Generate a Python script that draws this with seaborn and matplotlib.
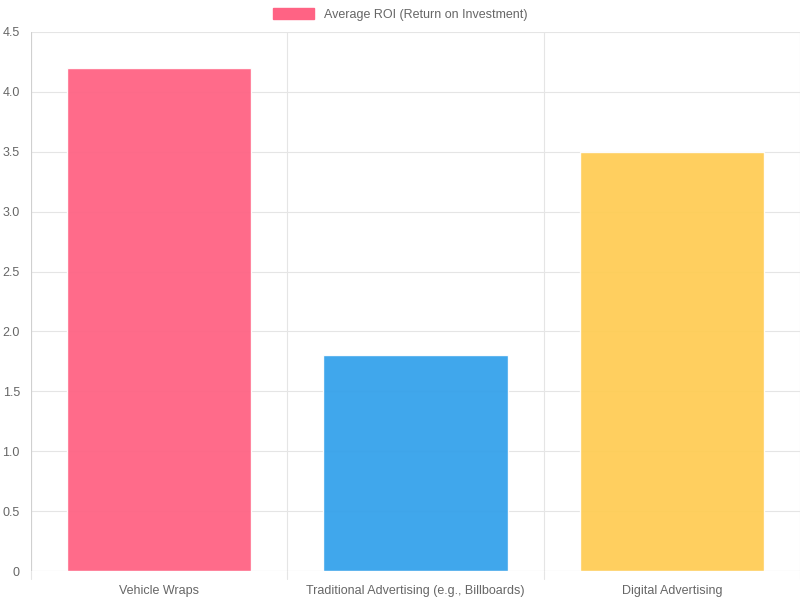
import matplotlib
matplotlib.use("Agg")
import matplotlib.pyplot as plt
import seaborn as sns
import pandas as pd
from matplotlib.patches import Patch

categories = ["Vehicle Wraps", "Traditional Advertising (e.g., Billboards)", "Digital Advertising"]
roi = [4.2, 1.8, 3.5]
colors = ["#FF6384", "#36A2EB", "#FFCD56"]
series_label = "Average ROI (Return on Investment)"

sns.set_theme(style="white")
plt.rcParams['font.family'] = ['Liberation Sans', 'DejaVu Sans']

df = pd.DataFrame({"cat": categories, "roi": roi})
fig = plt.figure(figsize=(8, 6), dpi=100)
ax = fig.add_axes([31/800, 29/600, 769/800, 539/600])
sns.barplot(data=df, x="cat", y="roi", hue="cat", palette=colors, width=0.72,
            ax=ax, legend=False, saturation=1, alpha=0.95)
ax.set_xlim(-0.5, 2.5)
ax.set_ylim(0, 4.5)
ax.set_yticks([0, 0.5, 1.0, 1.5, 2.0, 2.5, 3.0, 3.5, 4.0, 4.5])
ax.set_yticklabels(["0", "0.5", "1.0", "1.5", "2.0", "2.5", "3.0", "3.5", "4.0", "4.5"])
ax.set_xlabel("")
ax.set_ylabel("")
for y in [0.5, 1, 1.5, 2, 2.5, 3, 3.5, 4, 4.5]:
    ax.axhline(y, color="#e5e5e5", lw=0.8, zorder=0)
for x in [-0.5, 0.5, 1.5, 2.5]:
    ax.axvline(x, color="#e5e5e5", lw=0.8, zorder=0)
for s in ax.spines.values():
    s.set_visible(False)
ax.axhline(0, color="#d0d0d0", lw=0.8, zorder=0)
ax.axvline(-0.5, color="#d0d0d0", lw=0.8, zorder=0)
ax.tick_params(axis="both", colors="#666666", labelsize=9, length=0, pad=8)
ax.tick_params(axis="x", pad=10)
for x in [-0.5, 0.5, 1.5, 2.5]:
    ax.plot([x, x], [0, -0.065], color="#e5e5e5", lw=0.8, clip_on=False)
fig.legend(handles=[Patch(color=colors[0], label=series_label)], loc="upper center",
           bbox_to_anchor=(0.5, 1.005), frameon=False, fontsize=9, labelcolor="#666666",
           handlelength=3.3, handleheight=0.9)
fig.savefig("out.png", dpi=100)
